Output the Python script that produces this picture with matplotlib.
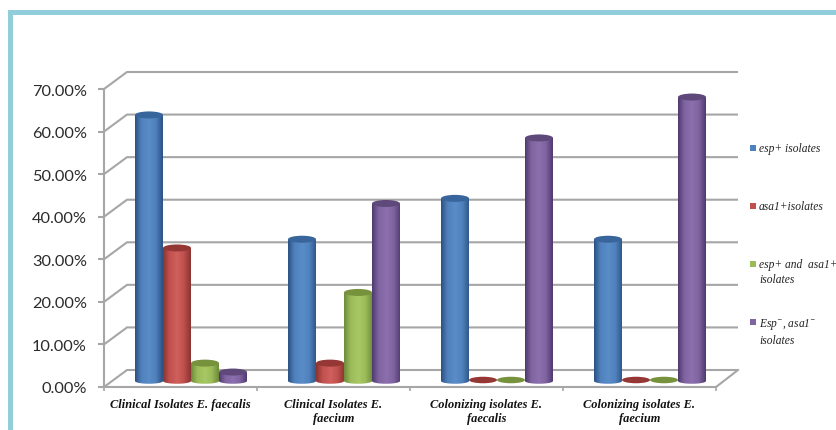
import numpy as np
import matplotlib
matplotlib.use("Agg")
import matplotlib.pyplot as plt
from matplotlib.colors import LinearSegmentedColormap
from matplotlib.patches import Ellipse, Polygon, Rectangle

# Isolate percentages per group
groups = ["Clinical Isolates E. faecalis", "Clinical Isolates E.\nfaecium",
          "Colonizing isolates E.\nfaecalis", "Colonizing isolates E.\nfaecium"]
esp_pos = [62.5, 33.3, 42.9, 33.3]
asa1_pos = [31.25, 4.2, 0, 0]
both_pos = [4.2, 20.8, 0, 0]
both_neg = [2.1, 41.7, 57.1, 66.7]
yticks = [0, 10, 20, 30, 40, 50, 60, 70]

W, H = 837, 431
BORDER = "#92cddc"
GRID = "#a6a6a6"

# dark edge, body, highlight, top face for each series
styles = [
    ("#2c5282", "#4f81bd", "#5a8cc8", "#38659b"),
    ("#8a3431", "#c0504d", "#d0605c", "#953734"),
    ("#6f8a3a", "#9bbb59", "#a8c866", "#76923c"),
    ("#4f3a6e", "#8064a2", "#8c70ae", "#5f497a"),
]
series = [esp_pos, asa1_pos, both_pos, both_neg]

plt.rcParams["mathtext.fontset"] = "custom"
plt.rcParams["mathtext.rm"] = "Liberation Serif:italic"
plt.rcParams["mathtext.it"] = "Liberation Serif:italic"

fig = plt.figure(figsize=(W / 100, H / 100), dpi=100)


def fx(x):
    return x / W


def fy(y):
    return 1 - y / H


# Blue frame along the top and left edges
fig.add_artist(Rectangle((fx(8), fy(16)), fx(W - 8), 5 / H, color=BORDER, lw=0))
fig.add_artist(Rectangle((fx(8), 0), 5 / W, fy(11), color=BORDER, lw=0))

# Axes span the front plane of the 3D box
ax = fig.add_axes([fx(104), fy(388), 612 / W, 298 / H])
ax.set_xlim(0, 4)
ax.set_ylim(0, 70)
ax.patch.set_alpha(0)

px_x = 4 / 612  # x units per pixel
px_y = 70 / 298  # y units per pixel
dx = 23 * px_x  # box depth
dy = 17 * px_y

# Walls: slanted lead-in plus horizontal gridline at each tick
for t in yticks:
    ax.plot([0, dx, 4 + dx - 1 * px_x], [t, t + dy, t + dy], color=GRID, lw=1.5,
            clip_on=False, zorder=1, solid_joinstyle="miter", solid_capstyle="butt")
ax.plot([4, 4 + dx - 1 * px_x], [0, dy], color=GRID, lw=1.5, clip_on=False, zorder=1)

for side in ["top", "right"]:
    ax.spines[side].set_visible(False)
for side in ["left", "bottom"]:
    ax.spines[side].set_color(GRID)
    ax.spines[side].set_linewidth(1.5)
    ax.spines[side].set_zorder(2)

ax.set_yticks(yticks)
ax.set_yticklabels([f"{t:.2f}%" for t in yticks], fontfamily="Lato", fontsize=11.8,
                   color="#2b2b2b")
ax.tick_params(axis="y", length=4.3, width=1.5, color=GRID, pad=8)
ax.set_xticks([0, 1, 2, 3, 4])
ax.set_xticklabels([])
ax.tick_params(axis="x", length=3, width=1.2, color=GRID)
ax.set_xticks([0.5, 1.5, 2.5, 3.5], minor=True)
ax.set_xticklabels(groups, minor=True, fontfamily="Liberation Serif", fontstyle="italic",
                   fontweight="bold", fontsize=8.9, color="#111111", linespacing=1.2)
ax.tick_params(axis="x", which="minor", length=0, pad=8)

bar_w = 28 * px_x
shift = 10.5 * px_x
base = 6 * px_y
top_h = 7 * px_y
bot_h = 5.5 * px_y
theta = np.linspace(2 * np.pi, np.pi, 40)


def cylinder(xc, value, style, order):
    dark, body, light, cap = style
    if value == 0:
        ax.add_patch(Ellipse((xc, base + 1 * px_y), bar_w, 6.5 * px_y, color=cap, lw=0,
                             zorder=order))
        return
    top = value + base
    # Side wall: straight top edge, rounded bottom edge
    outline = np.vstack([
        [[xc - bar_w / 2, top], [xc + bar_w / 2, top]],
        np.column_stack([xc + bar_w / 2 * np.cos(theta),
                         base + bot_h / 2 * np.sin(theta)]),
    ])
    shade = LinearSegmentedColormap.from_list(
        "shade", [(0, dark), (0.22, body), (0.5, light), (0.75, body), (1, dark)])
    im = ax.imshow(np.linspace(0, 1, 64).reshape(1, -1), cmap=shade, aspect="auto",
                   extent=[xc - bar_w / 2, xc + bar_w / 2, base - bot_h, top],
                   zorder=order, interpolation="bilinear")
    im.set_clip_path(Polygon(outline, transform=ax.transData))
    ax.add_patch(Ellipse((xc, top), bar_w, top_h, color=cap, lw=0, zorder=order + 0.1))


for s, values in enumerate(series):
    for g, v in enumerate(values):
        cylinder(g + 0.5 + shift + (s - 1.5) * bar_w, v, styles[s], 3 + s)

ax.set_xlim(0, 4)
ax.set_ylim(0, 70)

# Legend, laid out by hand so each swatch sits on the first text line
legend_rows = [("esp+ isolates", 149), ("asa1+isolates", 207),
               ("esp+ and  asa1+\nisolates", 265),
               ("Esp$^{-}$, asa1$^{-}$\nisolates", 323)]
for (label, y), style in zip(legend_rows, styles):
    fig.add_artist(Rectangle((fx(750), fy(y + 3)), 6 / W, 6 / H, color=style[1], lw=0))
    fig.text(fx(759), fy(y - 6), label, ha="left", va="top", family="Liberation Serif",
             style="italic", fontsize=8.3, color="#222222", linespacing=1.3)

fig.savefig("out.png", dpi=100)
